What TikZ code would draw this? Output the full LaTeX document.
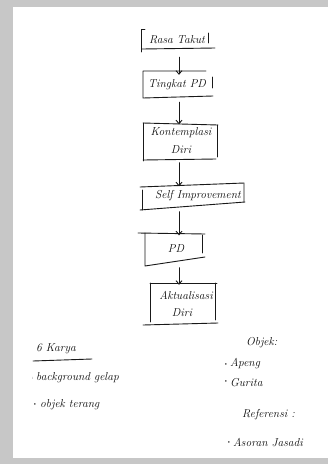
\documentclass[tikz,border=0pt]{standalone}
\usetikzlibrary{arrows.meta}
\begin{document}
\begin{tikzpicture}[x=1pt,y=-1pt,
  ink/.style={draw=black!90, line width=0.9pt, line cap=round, line join=round},
  arr/.style={ink, -{Straight Barb[length=3.5pt,width=6pt]}},
  hand/.style={font=\fontsize{11.5}{13}\selectfont\itshape, text=black!95, inner sep=0pt},
  boxnode/.style={hand, align=center, inner sep=0pt},
  note/.style={hand, anchor=west},
  dot/.style={font=\tiny}]
\useasboundingbox (0,0) rectangle (328,464);
\fill[black!22] (0,0) rectangle (328,464);
\fill[white] (13,7) rectangle (328,458);
\coordinate (ax) at (179,0);

% boxes
\node[boxnode, minimum width=74pt, minimum height=24pt] (rasa) at (177,40) {Rasa Takut};
\draw[ink] (145,29) -- (141,29) -- (141,52);
\draw[ink] (142,49) -- (215,48);
\draw[ink] (208,33) -- (208,43);

\node[boxnode, minimum width=70pt, minimum height=26pt] (tingkat) at (177,85) {Tingkat PD};
\draw[ink] (206,71) -- (143,71) -- (143,98) -- (213,96);
\draw[ink] (212,77) -- (212,88);

\node[boxnode, minimum width=75pt, minimum height=37pt] (kont) at (181,141) {Kontemplasi\\[5pt]Diri};
\draw[ink] (143,123) -- (218,125);
\draw[ink] (143,123) -- (143,161);
\draw[ink] (217,125) -- (217,157);
\draw[ink] (143,160) -- (216,159);

\node[boxnode, minimum width=104pt, minimum height=27pt] (self) at (192,196) {\hspace*{12pt}Self Improvement};
\draw[ink] (140,187) -- (244,183) -- (244,202);
\draw[ink] (142,190) -- (142,210);
\draw[ink] (140,210) -- (245,202);

\node[boxnode, minimum width=68pt, minimum height=33pt] (pd) at (171,249) {\hspace*{10pt}PD};
\draw[ink] (138,233) -- (205,234);
\draw[ink] (145,233) -- (145,266) -- (205,257);
\draw[ink] (202,235) -- (202,253);

\node[boxnode, minimum width=67pt, minimum height=42pt] (akt) at (182,304) {\hspace*{8pt}Aktualisasi\\[4pt]Diri};
\draw[ink] (150,283) -- (217,283);
\draw[ink] (150,283) -- (150,322);
\draw[ink] (215,283) -- (215,320);
\draw[ink] (143,325) -- (218,323);

% connectors
\draw[arr] (rasa.south -| ax) ++(0,5) -- ([yshift=-3pt]tingkat.north -| ax);
\draw[arr] (tingkat.south -| ax) ++(0,4) -- ([yshift=-2pt]kont.north -| ax);
\draw[arr] (kont.south -| ax) ++(0,3) -- ([yshift=-4pt]self.north -| ax);
\draw[arr] (self.south -| ax) ++(0,2) -- ([yshift=-3pt]pd.north -| ax);
\draw[arr] (pd.south -| ax) ++(0,2) -- ([yshift=-2pt]akt.north -| ax);

% left notes
\node[note] (karya) at (36,349) {6 Karya};
\draw[ink] (33,361) -- (92,359);
\node[note] (bg) at (36,378) {background gelap};
\node[dot] (bgdot) at (33,378) {:};
\node[note] (obj) at (40,405) {objek terang};
\node[dot] (objdot) at (35,405) {\textbullet};

% right notes
\node[note] (objek) at (246,343) {Objek:};
\node[note] (apeng) at (230,364) {Apeng};
\node[dot] (apdot) at (226,365) {\textbullet};
\node[note] (gurita) at (230,383) {Gurita};
\node[dot] (gudot) at (226,382) {\textbullet};
\node[note] (ref) at (242,415) {Referensi :};
\node[note] (asoran) at (233,443) {Asoran Jasadi};
\node[dot] (asdot) at (229,443) {\textbullet};
\end{tikzpicture}
\end{document}
